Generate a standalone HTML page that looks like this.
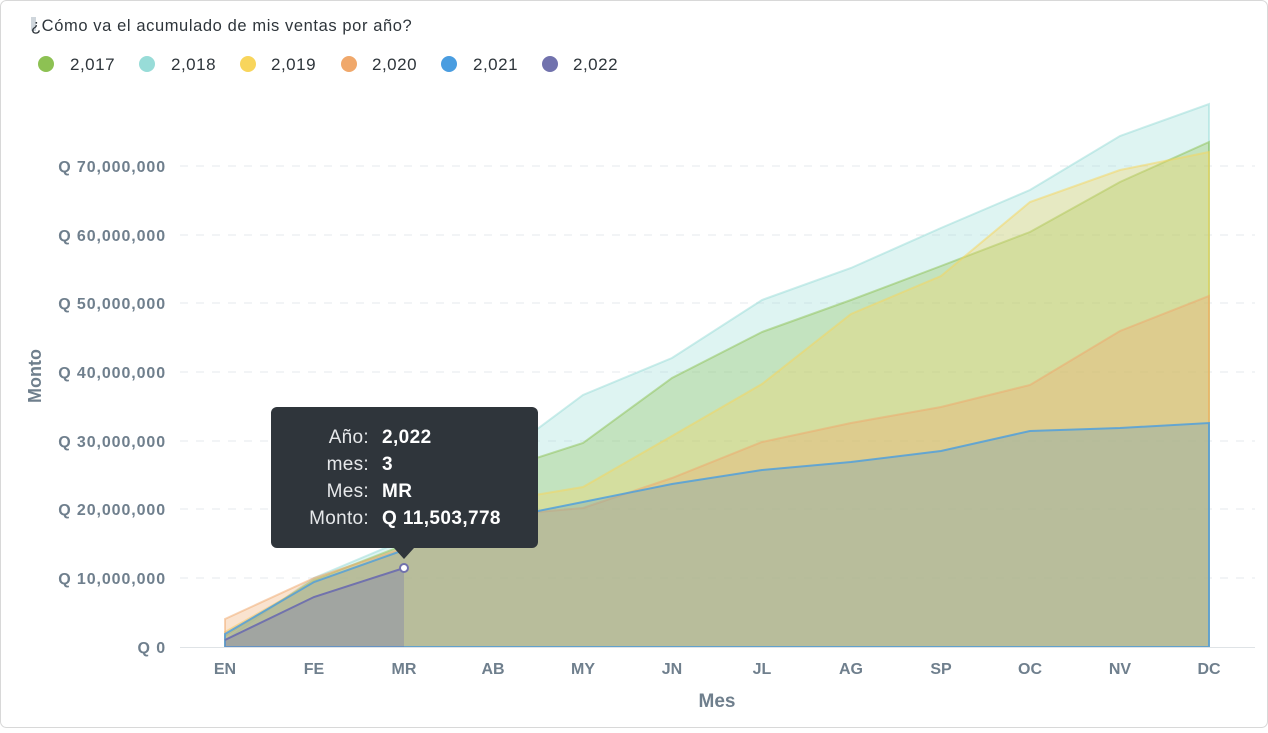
<!DOCTYPE html>
<html><head><meta charset="utf-8"><style>
body{margin:0;background:#fff;font-family:"Liberation Sans",sans-serif}
</style></head><body>
<svg width="1268" height="728" xmlns="http://www.w3.org/2000/svg" font-family="Liberation Sans, sans-serif">
<rect x="0.5" y="0.5" width="1267" height="727" rx="6" fill="#fff" stroke="#d8d8d8"/>
<rect x="31" y="17" width="5" height="14" fill="#cfd6dc"/>
<text x="31" y="31" font-size="16.5" letter-spacing="0.6" fill="#2e353b">¿Cómo va el acumulado de mis ventas por año?</text>
<g font-size="17" letter-spacing="0.5" fill="#2e353b">
<circle cx="46" cy="64" r="8" fill="#8dc153"/><text x="70" y="70">2,017</text>
<circle cx="147" cy="64" r="8" fill="#98dcd8"/><text x="171" y="70">2,018</text>
<circle cx="248" cy="64" r="8" fill="#f8d55c"/><text x="271" y="70">2,019</text>
<circle cx="349" cy="64" r="8" fill="#f0a86b"/><text x="372" y="70">2,020</text>
<circle cx="449" cy="64" r="8" fill="#4a9de0"/><text x="473" y="70">2,021</text>
<circle cx="550" cy="64" r="8" fill="#7172ad"/><text x="573" y="70">2,022</text>
</g>
<g stroke="#e6e9ec" stroke-dasharray="8,8">
<line x1="180" x2="1255" y1="166" y2="166"/><line x1="180" x2="1255" y1="235" y2="235"/>
<line x1="180" x2="1255" y1="303" y2="303"/><line x1="180" x2="1255" y1="372" y2="372"/>
<line x1="180" x2="1255" y1="441" y2="441"/><line x1="180" x2="1255" y1="509" y2="509"/>
<line x1="180" x2="1255" y1="578" y2="578"/>
</g>
<g font-size="16" letter-spacing="0.9" font-weight="bold" fill="#6f7f8d" text-anchor="end">
<text x="166" y="172">Q 70,000,000</text><text x="166" y="241">Q 60,000,000</text>
<text x="166" y="309">Q 50,000,000</text><text x="166" y="378">Q 40,000,000</text>
<text x="166" y="447">Q 30,000,000</text><text x="166" y="515">Q 20,000,000</text>
<text x="166" y="584">Q 10,000,000</text><text x="166" y="653">Q 0</text>
</g>
<text transform="translate(41,376) rotate(-90)" font-size="18" font-weight="bold" fill="#6f7f8d" text-anchor="middle">Monto</text>
<g stroke-width="2" fill-opacity="0.32" stroke-opacity="0.5">
<path d="M225,640 L314,578 L404,540 L493,462 L583,395 L672,358 L762,300 L851,268 L941,228 L1030,190 L1120,136 L1209,104 L1209,647 L225,647Z" fill="#98dcd8" stroke="#98dcd8"/>
<path d="M225,636 L314,580 L404,545 L493,472 L583,443 L672,378 L762,332 L851,300 L941,266 L1030,232 L1120,182 L1209,142 L1209,647 L225,647Z" fill="#8dc153" stroke="#8dc153"/>
<path d="M225,632 L314,582 L404,550 L493,502 L583,487 L672,436 L762,384 L851,314 L941,276 L1030,202 L1120,170 L1209,152 L1209,647 L225,647Z" fill="#f8d55c" stroke="#f8d55c"/>
<path d="M225,619 L314,578 L404,548 L493,516 L583,508 L672,478 L762,442 L851,423 L941,407 L1030,385 L1120,331 L1209,296 L1209,647 L225,647Z" fill="#f0a86b" stroke="#f0a86b"/>
<path d="M225,634 L314,582 L404,550 L493,520 L583,502 L672,484 L762,470 L851,462 L941,451 L1030,431 L1120,428 L1209,423 L1209,647 L225,647Z" fill="#6a9fb8" stroke="#4a9de0" stroke-opacity="0.8"/>
<path d="M225,640 L314,597 L404,568 L404,647 L225,647Z" fill="#7172ad" stroke="none"/>
<path d="M225,640 L314,597 L404,568" fill="none" stroke="#7172ad" stroke-opacity="1"/>
</g>
<circle cx="404" cy="568" r="4" fill="#fff" stroke="#7172ad" stroke-width="2"/>
<line x1="180" x2="1255" y1="647.5" y2="647.5" stroke="#dfe3e6"/>
<g font-size="16" font-weight="bold" fill="#6f7f8d" text-anchor="middle">
<text x="225" y="674">EN</text><text x="314" y="674">FE</text><text x="404" y="674">MR</text>
<text x="493" y="674">AB</text><text x="583" y="674">MY</text><text x="672" y="674">JN</text>
<text x="762" y="674">JL</text><text x="851" y="674">AG</text><text x="941" y="674">SP</text>
<text x="1030" y="674">OC</text><text x="1120" y="674">NV</text><text x="1209" y="674">DC</text>
</g>
<text x="717" y="707" font-size="19" font-weight="bold" fill="#6f7f8d" text-anchor="middle">Mes</text>
<rect x="271" y="407" width="267" height="141" rx="6" fill="#2f353b"/>
<path d="M394,548 L404,559 L414,548Z" fill="#2f353b"/>
<g font-size="19" letter-spacing="0.3" fill="#e6e8ea" text-anchor="end">
<text x="369" y="443">Año:</text><text x="369" y="470">mes:</text><text x="369" y="497">Mes:</text><text x="369" y="524">Monto:</text>
</g>
<g font-size="19" letter-spacing="0.4" font-weight="bold" fill="#fff">
<text x="382" y="443">2,022</text><text x="382" y="470">3</text><text x="382" y="497">MR</text><text x="382" y="524">Q 11,503,778</text>
</g>
</svg>
</body></html>
